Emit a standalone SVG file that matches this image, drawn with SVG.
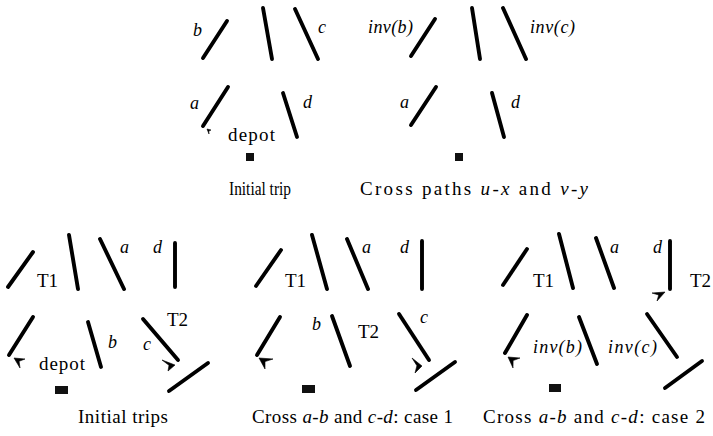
<svg xmlns="http://www.w3.org/2000/svg" width="713" height="436" viewBox="0 0 713 436">
<style>
.s{stroke:#000;stroke-width:3.9;stroke-linecap:round;fill:none}
.ah{fill:#000;stroke:#000;stroke-width:0.6;stroke-linejoin:round}
.t{font-family:"Liberation Serif","Times New Roman",serif;font-size:18px;fill:#000}
.c{font-family:"Liberation Serif","Times New Roman",serif;font-size:19px;fill:#000}
.i{font-style:italic}
.T{font-family:"Liberation Serif","Times New Roman",serif;font-size:19px;fill:#000}
.dp{fill:#111}
</style>
<rect width="713" height="436" fill="#fff"/>

<!-- Panel A: Initial trip -->
<g id="panelA">
  <g id="A-segs">
    <line class="s" x1="203" y1="58" x2="227" y2="21"/>
    <line class="s" x1="263" y1="8" x2="272" y2="59"/>
    <line class="s" x1="295" y1="9" x2="318" y2="59"/>
    <line class="s" x1="203" y1="126" x2="228" y2="87"/>
    <line class="s" x1="283" y1="93" x2="297" y2="137"/>
    <path class="ah" d="M211,130 L207,129 L209,134 L208.8,131.1 Z"/>
  </g>
  <text class="t i" x="193" y="36">b</text>
  <text class="t i" x="318" y="33">c</text>
  <text class="t i" x="190" y="109">a</text>
  <text class="t i" x="303" y="108">d</text>
  <text class="c" x="228" y="141" textLength="47">depot</text>
  <rect id="depotA" class="dp" x="246" y="153" width="8" height="8"/>
  <text class="c" x="229" y="195" font-size="18" textLength="62" lengthAdjust="spacingAndGlyphs">Initial trip</text>
</g>

<!-- Panel B: Cross paths -->
<g id="panelB">
  <g id="B-segs">
    <line class="s" x1="411" y1="56" x2="435" y2="19"/>
    <line class="s" x1="472" y1="8" x2="480" y2="59"/>
    <line class="s" x1="503" y1="8" x2="526" y2="59"/>
    <line class="s" x1="411" y1="125" x2="436" y2="87"/>
    <line class="s" x1="492" y1="93" x2="504" y2="137"/>
  </g>
  <text class="t i" x="368" y="33" textLength="45">inv(b)</text>
  <text class="t i" x="530" y="33" textLength="45">inv(c)</text>
  <text class="t i" x="400" y="108">a</text>
  <text class="t i" x="511" y="108">d</text>
  <rect id="depotB" class="dp" x="455" y="153" width="8" height="8"/>
  <text class="c" x="360" y="195" textLength="228">Cross paths <tspan class="i">u</tspan>-<tspan class="i">x</tspan> and <tspan class="i">v</tspan>-<tspan class="i">y</tspan></text>
</g>

<!-- Panel C: Initial trips -->
<g id="panelC">
  <g id="C-segs">
    <line class="s" x1="8" y1="287" x2="33" y2="252"/>
    <line class="s" x1="69" y1="235" x2="78" y2="289"/>
    <line class="s" x1="100" y1="239" x2="124" y2="289"/>
    <line class="s" x1="175" y1="243" x2="175" y2="287"/>
    <line class="s" x1="9" y1="355" x2="33" y2="317"/>
    <line class="s" x1="88" y1="322" x2="101" y2="367"/>
    <line class="s" x1="143" y1="319" x2="178" y2="360"/>
    <line class="s" x1="169" y1="391" x2="208" y2="363"/>
    <path class="ah" d="M25,359 L14,358 L20,368 L19.1,361.3 Z"/>
    <path class="ah" d="M162,360 L175,365 L168,371 L169,365.3 Z"/>
  </g>
  <text class="T" x="37" y="287">T1</text>
  <text class="T" x="167" y="326">T2</text>
  <text class="t i" x="120" y="253">a</text>
  <text class="t i" x="153" y="253">d</text>
  <text class="t i" x="108" y="348">b</text>
  <text class="t i" x="143" y="350">c</text>
  <text class="c" x="39" y="370" textLength="46">depot</text>
  <rect id="depotC" class="dp" x="55" y="386" width="13" height="8"/>
  <text class="c" x="78" y="423" textLength="90">Initial trips</text>
</g>

<!-- Panel D: case 1 -->
<g id="panelD">
  <g id="D-segs">
    <line class="s" x1="256" y1="286" x2="281" y2="250"/>
    <line class="s" x1="312" y1="235" x2="327" y2="289"/>
    <line class="s" x1="347" y1="239" x2="368" y2="289"/>
    <line class="s" x1="422" y1="241" x2="422" y2="289" stroke-width="4.5"/>
    <line class="s" x1="257" y1="355" x2="280" y2="317"/>
    <line class="s" x1="332" y1="316" x2="350" y2="366"/>
    <line class="s" x1="399" y1="314" x2="429" y2="360"/>
    <line class="s" x1="416" y1="390" x2="455" y2="362"/>
    <path class="ah" d="M273,359 L259,358 L265,369 L265,361.6 Z"/>
    <path class="ah" d="M412,358 L422,366 L415,373 L416.9,365.7 Z"/>
  </g>
  <text class="T" x="285" y="287">T1</text>
  <text class="T" x="358" y="338">T2</text>
  <text class="t i" x="362" y="253">a</text>
  <text class="t i" x="400" y="253">d</text>
  <text class="t i" x="312" y="330">b</text>
  <text class="t i" x="420" y="323">c</text>
  <rect id="depotD" class="dp" x="302" y="385" width="13" height="8"/>
  <text class="c" x="252" y="423" textLength="201">Cross <tspan class="i">a</tspan>-<tspan class="i">b</tspan> and <tspan class="i">c</tspan>-<tspan class="i">d</tspan>: case 1</text>
</g>

<!-- Panel E: case 2 -->
<g id="panelE">
  <g id="E-segs">
    <line class="s" x1="503" y1="285" x2="527" y2="249"/>
    <line class="s" x1="559" y1="234" x2="573" y2="288"/>
    <line class="s" x1="596" y1="238" x2="614" y2="288"/>
    <line class="s" x1="670" y1="241" x2="670" y2="289" stroke-width="4.5"/>
    <line class="s" x1="505" y1="353" x2="527" y2="315"/>
    <line class="s" x1="579" y1="317" x2="597" y2="364"/>
    <line class="s" x1="647" y1="314" x2="677" y2="357"/>
    <line class="s" x1="665" y1="388" x2="702" y2="361"/>
    <path class="ah" d="M520,358 L508,357 L513,368 L513.1,360.6 Z"/>
    <path class="ah" d="M652,293 L665,292 L657,301 L658.7,295 Z"/>
  </g>
  <text class="T" x="533" y="287">T1</text>
  <text class="T" x="690" y="287">T2</text>
  <text class="t i" x="610" y="253">a</text>
  <text class="t i" x="653" y="253">d</text>
  <text class="t i" x="533" y="353" textLength="49">inv(b)</text>
  <text class="t i" x="608" y="353" textLength="49">inv(c)</text>
  <rect id="depotE" class="dp" x="549" y="384" width="12" height="8"/>
  <text class="c" x="483" y="423" textLength="222">Cross <tspan class="i">a</tspan>-<tspan class="i">b</tspan> and <tspan class="i">c</tspan>-<tspan class="i">d</tspan>: case 2</text>
</g>
</svg>
